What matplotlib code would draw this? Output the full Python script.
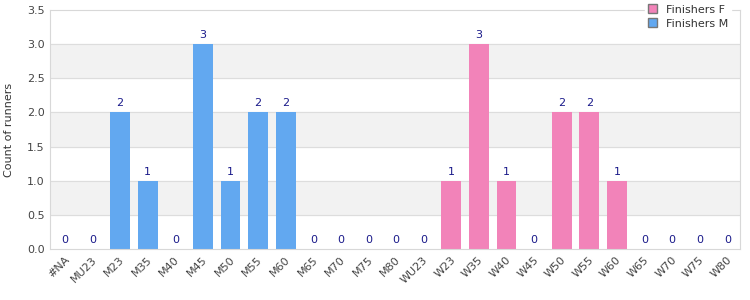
import numpy as np
import matplotlib.pyplot as plt
from matplotlib.patches import Patch

categories = ["#NA", "MU23", "M23", "M35", "M40", "M45", "M50", "M55", "M60", "M65",
              "M70", "M75", "M80", "WU23", "W23", "W35", "W40", "W45", "W50", "W55",
              "W60", "W65", "W70", "W75", "W80"]
counts = [0, 0, 2, 1, 0, 3, 1, 2, 2, 0, 0, 0, 0, 0, 1, 3, 1, 0, 2, 2, 1, 0, 0, 0, 0]
group = ["M"] * 13 + ["F"] * 12

col_m = "#62a8f0"
col_f = "#f283b9"

fig = plt.figure(figsize=(7.5, 3), dpi=100)
ax = fig.add_axes([0.067, 0.17, 0.92, 0.797])

x = np.arange(len(categories))
colors = [col_m if g == "M" else col_f for g in group]

# alternating bands
for i in range(7):
    if i % 2 == 1:
        ax.axhspan(i * 0.5, (i + 1) * 0.5, color="#f2f2f2", zorder=0)
for y in np.arange(0.5, 3.5, 0.5):
    ax.axhline(y, color="#dddddd", lw=0.8, zorder=1)

ax.bar(x + 0.03, counts, width=0.72, color=colors, zorder=2)
for xi, c in zip(x, counts):
    ax.annotate(str(c), (xi + 0.03, c), xytext=(0, 3), textcoords="offset points",
                ha="center", va="bottom", fontsize=8, color="#1a1a8a")

ax.set_xlim(-0.5, len(categories) - 0.5)
ax.set_ylim(0, 3.5)
ax.set_yticks(np.arange(0, 3.6, 0.5))
ax.set_yticklabels([f"{v:.1f}" for v in np.arange(0, 3.6, 0.5)])
ax.set_xticks(x)
ax.set_xticklabels(categories, rotation=45, ha="right", rotation_mode="anchor")
ax.tick_params(axis="both", length=0, labelsize=8, colors="#444444", pad=4)
ax.set_ylabel("Count of runners", fontsize=8, color="#333333", labelpad=9)
for s in ax.spines.values():
    s.set_color("#d8d8d8")

handles = [Patch(facecolor=col_f, edgecolor="#777777", label="Finishers F"),
           Patch(facecolor=col_m, edgecolor="#777777", label="Finishers M")]
leg = ax.legend(handles=handles, loc="upper right", bbox_to_anchor=(0.995, 1.06),
                fontsize=8, frameon=True, handlelength=0.8, handleheight=0.8,
                handletextpad=0.8, borderpad=0.3, labelspacing=0.35)
for t in leg.get_texts():
    t.set_color("#333333")
leg.get_frame().set_edgecolor("white")
leg.get_frame().set_facecolor("white")
leg.get_frame().set_alpha(1)
leg.get_frame().set_boxstyle("square", pad=0)
leg.set_zorder(5)

fig.savefig("out.png", dpi=100)
